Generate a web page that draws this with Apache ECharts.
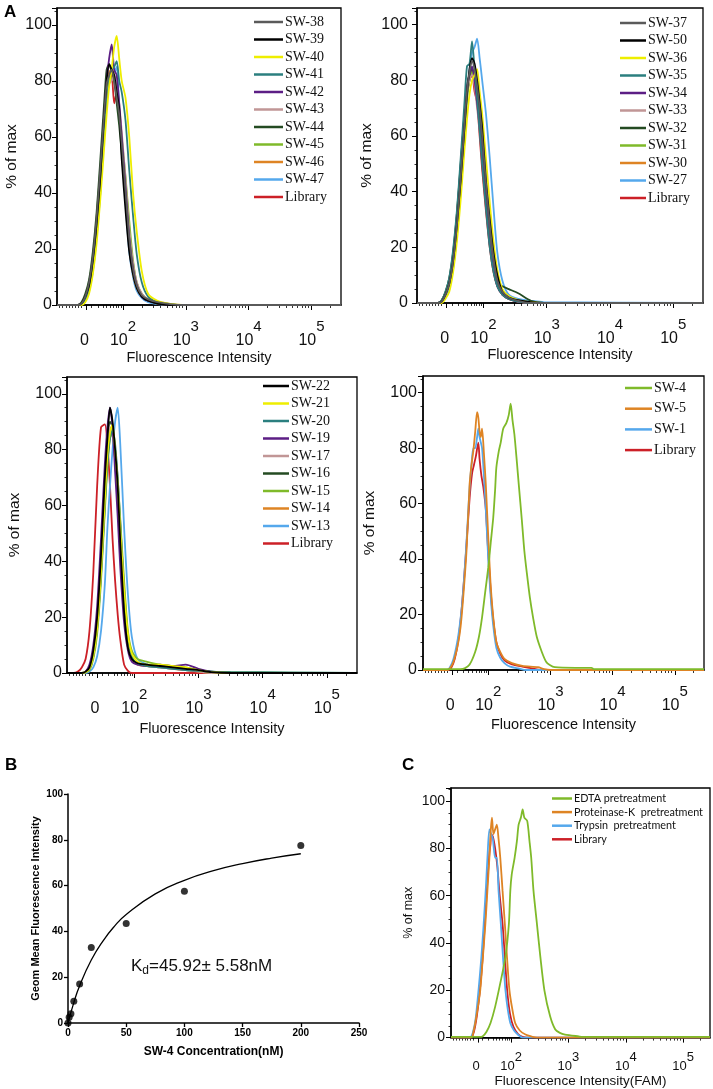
<!DOCTYPE html>
<html>
<head>
<meta charset="utf-8">
<script src="https://cdn.jsdelivr.net/npm/echarts@6/dist/echarts.min.js"></script>
<style>
html, body { margin: 0; padding: 0; background: #fff; }
#chart { width: 713px; height: 1089px; }
</style>
</head>
<body>
<div id="chart"></div>
<script>
// histogram x values are logicle display units: 2 = 10^2, 3 = 10^3 ...
const uMin = 0.95, uMax = 5.47;
const zeroPos = 1.42;
const decadePos = [2, 3, 4, 5];
const minorPos = [0.99, 1.04, 1.09, 1.14, 1.19, 1.24, 1.29, 1.34, 1.5, 1.6, 1.68, 1.74, 1.8, 1.85, 1.89, 1.93, 1.97,
  2.3, 2.48, 2.6, 2.7, 2.78, 2.85, 2.9, 2.95, 3.3, 3.48, 3.6, 3.7, 3.78, 3.85, 3.9, 3.95,
  4.3, 4.48, 4.6, 4.7, 4.78, 4.85, 4.9, 4.95, 5.3];

// ---- A, top-left ----
const uTop = [0.95, 1.28, 1.34, 1.40, 1.46, 1.52, 1.58, 1.64, 1.70, 1.74, 1.78, 1.82, 1.86, 1.90, 1.94, 1.98, 2.04, 2.10, 2.16, 2.22, 2.30, 2.40, 2.55, 2.75, 2.95, 5.47];
const tlNames = ['SW-38', 'SW-39', 'SW-40', 'SW-41', 'SW-42', 'SW-43', 'SW-44', 'SW-45', 'SW-46', 'SW-47', 'Library'];
const sw38 = [0, 0, 0.5, 3, 8, 17, 31, 49, 68, 79, 82, 84, 80, 74, 68, 58, 41, 24, 13, 7, 3.5, 2, 1, 0.3, 0, 0];
const sw39 = [0, 0, 0.5, 3, 7, 16, 29, 46, 68, 80, 86, 84, 82, 76, 70, 52, 34, 19, 11, 6, 3, 1.5, 0.5, 0, 0, 0];
const sw40 = [0, 0, 0, 1, 4, 11, 22, 38, 56, 68, 78, 84, 92, 96, 88, 80, 74, 60, 40, 26, 12, 4, 1.5, 0.4, 0, 0];
const sw41 = [0, 0, 0.3, 2, 5, 12, 24, 40, 60, 72, 80, 84, 85, 87, 80, 76, 66, 48, 32, 18, 8, 3, 1, 0.3, 0, 0];
const sw42 = [0, 0, 0.5, 2.5, 7, 15, 28, 45, 66, 80, 88, 93, 84, 82, 72, 60, 42, 24, 13, 7, 3, 1.5, 0.6, 0, 0, 0];
const sw43 = [0, 0, 0.3, 2, 6, 14, 27, 44, 63, 74, 79, 80, 82, 78, 72, 62, 45, 27, 15, 8, 4, 2, 1.2, 0.4, 0, 0];
const sw44 = [0, 0, 1, 4, 9, 19, 33, 52, 72, 84, 86, 83, 80, 72, 64, 54, 38, 22, 12, 7, 3, 1.5, 0.5, 0, 0, 0];
const sw45 = [0, 0, 0.5, 3, 8, 17, 30, 48, 66, 76, 80, 81, 80, 76, 70, 60, 46, 30, 16, 8, 4, 2, 0.8, 0, 0, 0];
const sw46 = [0, 0, 0.4, 2.5, 7, 16, 29, 46, 66, 78, 83, 84, 82, 76, 68, 57, 39, 21, 11, 6, 3, 1.5, 0.5, 0, 0, 0];
const sw47 = [0, 0, 0.2, 2, 6, 14, 27, 44, 64, 76, 82, 84, 83, 85, 70, 56, 37, 19, 10, 5, 2.5, 1, 0.3, 0, 0, 0];
const libTL = [0, 0, 0.4, 2.5, 7, 15, 28, 45, 64, 75, 80, 82, 72, 76, 68, 57, 39, 21, 11, 6, 3, 1.5, 0.5, 0, 0, 0];

// ---- A, top-right ----
const trNames = ['SW-37', 'SW-50', 'SW-36', 'SW-35', 'SW-34', 'SW-33', 'SW-32', 'SW-31', 'SW-30', 'SW-27', 'Library'];
const sw37 = [0, 0, 0.5, 3, 7, 15, 28, 45, 64, 76, 83, 87, 84, 78, 70, 60, 43, 28, 16, 8, 4, 2, 0.8, 0, 0, 0];
const sw50 = [0, 0, 0.5, 3, 7, 15, 28, 44, 63, 75, 84, 88, 86, 80, 72, 63, 44, 30, 18, 10, 4, 2, 1, 0.3, 0, 0];
const sw36 = [0, 0, 0, 1.5, 4, 11, 22, 37, 55, 66, 75, 80, 82, 84, 76, 68, 52, 36, 22, 12, 5, 2.5, 1, 0.3, 0, 0];
const sw35 = [0, 0, 1, 4, 9, 19, 33, 52, 72, 85, 86, 94, 84, 74, 62, 50, 34, 20, 11, 6, 3, 1.5, 0.5, 0, 0, 0];
const sw34 = [0, 0, 0.8, 3.5, 8, 17, 31, 49, 68, 78, 82, 85, 80, 72, 63, 52, 36, 21, 12, 6, 3, 1.5, 0.5, 0, 0, 0];
const sw33 = [0, 0, 0.8, 3.5, 8, 17, 31, 48, 66, 76, 80, 82, 78, 70, 62, 52, 36, 21, 12, 6, 3, 1.5, 0.5, 0, 0, 0];
const sw32 = [0, 0, 1, 4, 9, 18, 32, 50, 68, 78, 82, 84, 82, 76, 66, 55, 38, 22, 12, 7, 6, 5, 3.5, 0.8, 0, 0];
const sw31 = [0, 0, 0.5, 3, 7, 15, 28, 45, 63, 74, 80, 83, 81, 76, 68, 58, 42, 26, 14, 7, 3.5, 2, 0.8, 0, 0, 0];
const sw30 = [0, 0, 0.5, 3, 7, 15, 28, 45, 64, 75, 81, 84, 82, 77, 68, 57, 40, 24, 13, 7, 3, 1.5, 0.5, 0, 0, 0];
const sw27 = [0, 0, 0.3, 2, 5, 12, 24, 40, 58, 72, 84, 90, 92, 95, 88, 80, 68, 52, 34, 18, 8, 3, 1.5, 0.8, 0.3, 0];
const libTR = [0, 0, 0.5, 3, 7, 15, 28, 45, 63, 74, 80, 82, 76, 72, 60, 48, 33, 20, 11, 6, 3, 1.5, 0.5, 0, 0, 0];

// ---- A, bottom-left ----
const uBot = [0.95, 1.05, 1.12, 1.18, 1.24, 1.30, 1.36, 1.42, 1.48, 1.54, 1.58, 1.62, 1.66, 1.70, 1.74, 1.78, 1.84, 1.90, 1.96, 2.05, 2.20, 2.40, 2.60, 2.80, 3.00, 3.20, 3.50, 5.47];
const blNames = ['SW-22', 'SW-21', 'SW-20', 'SW-19', 'SW-17', 'SW-16', 'SW-15', 'SW-14', 'SW-13', 'Library'];
const sw22 = [0, 0, 0, 0, 0.5, 2, 8, 20, 42, 70, 84, 95, 90, 80, 67, 47, 22, 9, 5, 3.5, 3, 2.5, 2, 1.5, 1, 0.3, 0, 0];
const sw21 = [0, 0, 0, 0, 0.3, 1.5, 6, 16, 36, 62, 78, 86, 89, 80, 68, 52, 30, 14, 7, 4, 3, 3, 2.5, 2, 1, 0.3, 0, 0];
const sw20 = [0, 0, 0, 0, 0.3, 1.5, 6, 16, 35, 60, 75, 84, 87, 82, 70, 54, 30, 13, 6, 3.5, 2.5, 2, 1.5, 1, 0.8, 0.5, 0.3, 0];
const sw19 = [0, 0, 0, 0, 0.5, 3, 10, 24, 48, 75, 88, 95, 88, 72, 56, 38, 18, 8, 4, 3, 2.5, 3, 2.5, 3, 1.5, 0.5, 0, 0];
const sw17 = [0, 0, 0, 0, 0.5, 2, 7, 18, 38, 64, 80, 88, 86, 76, 62, 45, 24, 10, 5, 3, 2.5, 2, 1.5, 1, 0.5, 0, 0, 0];
const sw16 = [0, 0, 0, 0, 0.5, 2, 7, 19, 40, 67, 82, 90, 88, 76, 62, 45, 24, 10, 5, 3.5, 3, 2.5, 2, 1.5, 1, 0.3, 0, 0];
const sw15 = [0, 0, 0, 0, 0.3, 1, 5, 14, 33, 58, 74, 84, 86, 80, 70, 55, 33, 15, 8, 5, 4, 3, 2.5, 2, 1, 0.5, 0.3, 0];
const sw14 = [0, 0, 0, 0, 0.3, 1.5, 6, 17, 37, 62, 78, 86, 87, 78, 64, 47, 26, 11, 5, 3, 2.5, 2, 1.5, 1, 0.5, 0, 0, 0];
const sw13 = [0, 0, 0, 0, 0, 0.5, 2, 6, 15, 32, 52, 67, 80, 90, 95, 82, 52, 28, 13, 5, 3, 2, 1.5, 1, 0.8, 0.5, 0.3, 0];
const libBL = [0, 0, 0.5, 2, 5, 15, 36, 67, 88, 89, 82, 67, 48, 33, 21, 12, 3, 0.8, 0, 0, 0, 0, 0, 0, 0, 0, 0, 0];

// ---- A, bottom-right: [display position, % of max] ----
const brNames = ['SW-4', 'SW-5', 'SW-1', 'Library'];
const sw4 = [[0.95, 0.3], [1.55, 0.3], [1.62, 0.6], [1.70, 2], [1.79, 6.6], [1.85, 12], [1.90, 19], [1.95, 28], [2.00, 37], [2.04, 46], [2.08, 55], [2.11, 65], [2.13, 73], [2.17, 79], [2.20, 82], [2.24, 87], [2.29, 89], [2.33, 92], [2.36, 96], [2.39, 90], [2.42, 85], [2.46, 75], [2.49, 67], [2.54, 54], [2.58, 43], [2.62, 35], [2.67, 26], [2.72, 19], [2.78, 12], [2.86, 6.6], [2.93, 3], [2.99, 1.8], [3.07, 1], [3.40, 0.8], [3.66, 0.8], [3.70, 0.3], [5.47, 0.3]];
const sw5 = [[0.95, 0], [1.34, 0], [1.38, 0.5], [1.44, 3], [1.50, 8], [1.54, 13], [1.57, 19], [1.61, 30], [1.65, 43], [1.70, 67], [1.73, 74], [1.76, 79], [1.79, 86], [1.82, 93], [1.84, 91], [1.86, 86], [1.88, 84], [1.90, 87], [1.93, 78], [1.96, 67], [2.01, 43], [2.04, 30], [2.08, 19], [2.13, 10], [2.19, 6.6], [2.26, 4], [2.38, 2.5], [2.55, 1.5], [2.80, 1], [2.90, 0.3], [3.0, 0], [5.47, 0]];
const sw1 = [[0.95, 0], [1.34, 0], [1.38, 0.8], [1.44, 4], [1.50, 10], [1.54, 16], [1.58, 24], [1.62, 36], [1.66, 50], [1.70, 66], [1.73, 74], [1.76, 80], [1.79, 80], [1.82, 84], [1.84, 87], [1.86, 84], [1.88, 82], [1.90, 80], [1.93, 70], [1.96, 58], [2.00, 40], [2.04, 26], [2.08, 16], [2.13, 8], [2.19, 4.5], [2.26, 2.5], [2.35, 1.2], [2.50, 0.5], [2.6, 0], [5.47, 0]];
const libBR = [[0.95, 0], [1.36, 0], [1.40, 0.6], [1.46, 4], [1.52, 11], [1.58, 24], [1.64, 42], [1.70, 62], [1.74, 71], [1.77, 74], [1.80, 77], [1.84, 82], [1.86, 76], [1.89, 70], [1.92, 66], [1.96, 58], [2.00, 42], [2.04, 28], [2.08, 18], [2.13, 10], [2.19, 6], [2.26, 3.5], [2.38, 2], [2.55, 1.2], [2.70, 0.6], [2.85, 0], [5.47, 0]];

// ---- C ----
const cNames = ['EDTA pretreatment', 'Proteinase-K  pretreatment', 'Trypsin  pretreatment', 'Library'];
const edta = [[0.95, 0.3], [1.45, 0.3], [1.50, 0.5], [1.57, 2.5], [1.64, 6.2], [1.72, 13], [1.81, 23], [1.90, 34], [1.96, 48], [1.985, 62], [2.01, 69], [2.06, 76], [2.10, 83], [2.13, 90], [2.17, 93], [2.20, 96.5], [2.23, 93], [2.28, 91.6], [2.32, 83], [2.35, 76], [2.39, 62], [2.45, 48], [2.51, 34], [2.58, 20], [2.68, 9], [2.77, 3.4], [2.85, 2], [2.94, 1.3], [3.18, 0.5], [3.25, 0.3], [5.47, 0.3]];
const protK = [[0.95, 0], [1.30, 0], [1.35, 3.4], [1.40, 10], [1.46, 20], [1.50, 32], [1.55, 48], [1.59, 64], [1.62, 76], [1.645, 88], [1.665, 93], [1.69, 86], [1.72, 88], [1.75, 90], [1.78, 84], [1.81, 76], [1.85, 62], [1.89, 48], [1.93, 33], [1.97, 20], [2.02, 12], [2.07, 6.2], [2.15, 3], [2.25, 1.3], [2.35, 0.5], [2.45, 0], [5.47, 0]];
const trypsin = [[0.95, 0], [1.28, 0], [1.33, 2], [1.38, 8], [1.43, 20], [1.48, 34], [1.52, 48], [1.56, 64], [1.59, 78], [1.62, 88], [1.65, 86], [1.68, 84], [1.72, 76], [1.75, 76], [1.78, 62], [1.82, 48], [1.86, 33], [1.90, 20], [1.94, 12], [1.985, 6.2], [2.05, 3], [2.13, 1], [2.2, 0], [5.47, 0]];
const libC = [[0.95, 0], [1.30, 0], [1.35, 2.5], [1.40, 9], [1.45, 19], [1.50, 33], [1.54, 48], [1.58, 64], [1.62, 78], [1.64, 82], [1.65, 86], [1.68, 85], [1.72, 80], [1.76, 72], [1.80, 60], [1.85, 48], [1.89, 34], [1.93, 20], [1.98, 10], [2.04, 4.5], [2.12, 1.5], [2.2, 0.3], [2.3, 0], [5.47, 0]];

// ---- B ----
const bConc = [0, 1, 2.5, 5, 10, 20, 50, 100, 200];
const bGeoMean = [0, 2.5, 4, 9.5, 17, 33, 43.5, 57.5, 77.5];
const fitConc = [0, 5, 10, 20, 30, 40, 50, 75, 100, 125, 150, 175, 200];
const fitGeoMean = [0, 8.9, 16.3, 27.5, 35.8, 42.3, 47.4, 56.4, 62.3, 66.5, 69.6, 72.0, 73.9];

const cGrey = '#5a5a5a', cBlack = '#000000', cYellow = '#eeee00', cTeal = '#2b7f7f', cPurple = '#5c1e85',
  cPink = '#c19696', cDkGreen = '#244b22', cLtGreen = '#7fba2a', cOrange = '#de8424', cLtBlue = '#55a8ec', cRed = '#cc2027';

const SANS = 'Liberation Sans';
const zip = (xs, ys) => xs.map((x, i) => [x, ys[i]]);

// layout of the five histogram panels (TL, TR, BL, BR, C)
const hist = [
  { grid: { left: 57, top: 8, width: 284, height: 297 }, yMax: 106, fs: 16, sup: 15, lift: 14, lm: 14.5,
    xName: 'Fluorescence Intensity', xfs: 14.5, xgap: 45, yfs: 15.5, ygap: 37, ylm: 5,
    legend: { left: 254, top: 15, gap: 3.5, w: 29, fs: 14, lh: 14, ff: 'Liberation Serif' } },
  { grid: { left: 417, top: 8, width: 286, height: 295 }, yMax: 106, fs: 16, sup: 15, lift: 14, lm: 14.5,
    xName: 'Fluorescence Intensity', xfs: 14.5, xgap: 44, yfs: 15.5, ygap: 42, ylm: 9,
    legend: { left: 620, top: 16, gap: 3.5, w: 26, fs: 14, lh: 14, ff: 'Liberation Serif' } },
  { grid: { left: 67, top: 377, width: 290, height: 296 }, yMax: 106, fs: 16, sup: 15, lift: 14, lm: 14.5,
    xName: 'Fluorescence Intensity', xfs: 14.5, xgap: 48, yfs: 15.5, ygap: 44, ylm: 5,
    legend: { left: 263, top: 379, gap: 3.5, w: 26, fs: 14, lh: 14, ff: 'Liberation Serif' } },
  { grid: { left: 423, top: 376, width: 281, height: 294 }, yMax: 106, fs: 16, sup: 15, lift: 14, lm: 14.5,
    xName: 'Fluorescence Intensity', xfs: 14.5, xgap: 47, yfs: 15.5, ygap: 45, ylm: 6,
    legend: { left: 625, top: 381, gap: 6.7, w: 27, fs: 14, lh: 14, ff: 'Liberation Serif' } },
  { grid: { left: 451, top: 788, width: 259, height: 251 }, yMax: 105.5, fs: 13, sup: 13, lift: 9, lm: 13.5,
    xName: 'Fluorescence Intensity(FAM)', xfs: 13.5, xgap: 35, yfs: 12.5, ygap: 36, ylm: 6, yLabFs: 14,
    legend: { left: 552, top: 793, gap: 2.6, w: 20, fs: 10.8, lh: 10, ff: 'Lato' } }
];

const histSeries = [
  { names: tlNames, colors: [cGrey, cBlack, cYellow, cTeal, cPurple, cPink, cDkGreen, cLtGreen, cOrange, cLtBlue, cRed],
    data: [sw38, sw39, sw40, sw41, sw42, sw43, sw44, sw45, sw46, sw47, libTL].map(v => zip(uTop, v)) },
  { names: trNames, colors: [cGrey, cBlack, cYellow, cTeal, cPurple, cPink, cDkGreen, cLtGreen, cOrange, cLtBlue, cRed],
    data: [sw37, sw50, sw36, sw35, sw34, sw33, sw32, sw31, sw30, sw27, libTR].map(v => zip(uTop, v)) },
  { names: blNames, colors: [cBlack, cYellow, cTeal, cPurple, cPink, cDkGreen, cLtGreen, cOrange, cLtBlue, cRed],
    data: [sw22, sw21, sw20, sw19, sw17, sw16, sw15, sw14, sw13, libBL].map(v => zip(uBot, v)) },
  { names: brNames, colors: [cLtGreen, cOrange, cLtBlue, cRed], data: [sw4, sw5, sw1, libBR] },
  { names: cNames, colors: [cLtGreen, cOrange, cLtBlue, cRed], data: [edta, protK, trypsin, libC] }
];

const grids = [], xAxes = [], yAxes = [], legends = [], series = [];

hist.forEach((p, i) => {
  grids.push(Object.assign({ show: true, borderColor: '#000', borderWidth: 1.3, backgroundColor: 'transparent' }, p.grid));
  xAxes.push({
    gridIndex: i, type: 'value', position: 'bottom', min: uMin, max: uMax,
    axisLine: { show: true, onZero: false, lineStyle: { color: '#000', width: 1.5 } },
    axisTick: { show: true, customValues: [zeroPos].concat(decadePos), length: 5, lineStyle: { color: '#000', width: 1 } },
    axisLabel: {
      customValues: [zeroPos].concat(decadePos), margin: p.lm, color: '#111',
      formatter: v => Math.abs(v - zeroPos) < 1e-6 ? '{b|0}{s| }' : '{b|10}{s|' + Math.round(v) + '}',
      rich: {
        b: { fontFamily: SANS, fontSize: p.fs, verticalAlign: 'bottom', color: '#111' },
        s: { fontFamily: SANS, fontSize: p.sup, padding: [0, 0, p.lift, 0], verticalAlign: 'top', color: '#111' }
      }
    },
    splitLine: { show: false },
    name: p.xName, nameLocation: 'middle', nameGap: p.xgap,
    nameTextStyle: { fontFamily: SANS, fontSize: p.xfs, color: '#111' }
  });
  xAxes.push({
    gridIndex: i, type: 'value', position: 'bottom', min: uMin, max: uMax,
    axisLine: { show: false, onZero: false },
    axisTick: { show: true, customValues: minorPos, length: 3, lineStyle: { color: '#000', width: 0.8 } },
    axisLabel: { show: false }, splitLine: { show: false }
  });
  yAxes.push({
    gridIndex: i, type: 'value', min: 0, max: p.yMax, interval: 20,
    axisLine: { show: true, onZero: false, lineStyle: { color: '#000', width: 1.5 } },
    axisTick: { show: true, length: 5, lineStyle: { color: '#000' } },
    minorTick: { show: true, splitNumber: 4, length: 2.5, lineStyle: { color: '#000', width: 0.8 } },
    axisLabel: { fontFamily: SANS, fontSize: p.yLabFs || 16, color: '#111', margin: p.ylm, showMaxLabel: false },
    splitLine: { show: false },
    name: '% of max', nameLocation: 'middle', nameGap: p.ygap,
    nameTextStyle: { fontFamily: SANS, fontSize: p.yfs, color: '#111' }
  });
  const s = histSeries[i];
  legends.push({
    orient: 'vertical', left: p.legend.left, top: p.legend.top, padding: 0, itemGap: p.legend.gap,
    icon: 'rect', itemWidth: p.legend.w, itemHeight: 2.5, data: s.names, selectedMode: false,
    textStyle: { fontFamily: p.legend.ff, fontSize: p.legend.fs, color: '#111', lineHeight: p.legend.lh, padding: [0, 0, 0, -3] }
  });
  // draw in reverse legend order so the first entries sit on top
  for (let k = s.names.length - 1; k >= 0; k--) {
    series.push({
      type: 'line', name: s.names[k], data: s.data[k], xAxisIndex: 2 * i, yAxisIndex: i,
      symbol: 'none', smooth: 0.25, silent: true,
      lineStyle: { color: s.colors[k], width: 1.8 }, itemStyle: { color: s.colors[k] }
    });
  }
});

// ---- B: binding curve ----
grids.push({ left: 68, top: 794, width: 291, height: 229 });
xAxes.push({
  gridIndex: 5, type: 'value', min: 0, max: 250, interval: 50,
  axisLine: { onZero: false, lineStyle: { color: '#000', width: 1.5 } },
  axisTick: { show: true, length: 4, lineStyle: { color: '#000', width: 1.3 } },
  axisLabel: { fontFamily: SANS, fontSize: 10, fontWeight: 'bold', color: '#000', margin: 5 },
  splitLine: { show: false },
  name: 'SW-4 Concentration(nM)', nameLocation: 'middle', nameGap: 23,
  nameTextStyle: { fontFamily: SANS, fontSize: 12, fontWeight: 'bold', color: '#000' }
});
yAxes.push({
  gridIndex: 5, type: 'value', min: 0, max: 100, interval: 20,
  axisLine: { show: true, onZero: false, lineStyle: { color: '#000', width: 1.5 } },
  axisTick: { show: true, length: 4, lineStyle: { color: '#000', width: 1.3 } },
  axisLabel: { fontFamily: SANS, fontSize: 10, fontWeight: 'bold', color: '#000', margin: 5 },
  splitLine: { show: false },
  name: 'Geom Mean Fluorescence Intensity', nameLocation: 'middle', nameGap: 27,
  nameTextStyle: { fontFamily: SANS, fontSize: 11, fontWeight: 'bold', color: '#000' }
});
series.push({
  type: 'line', name: 'fit', data: zip(fitConc, fitGeoMean), xAxisIndex: 10, yAxisIndex: 5,
  symbol: 'none', smooth: true, silent: true, lineStyle: { color: '#000', width: 1.3 }
});
series.push({
  type: 'scatter', name: 'SW-4', data: zip(bConc, bGeoMean), xAxisIndex: 10, yAxisIndex: 5,
  symbolSize: 7, silent: true, itemStyle: { color: '#000' }
});

const option = {
  animation: false,
  backgroundColor: '#fff',
  grid: grids, xAxis: xAxes, yAxis: yAxes, legend: legends, series: series,
  title: [{
    text: 'K{d|d}=45.92± 5.58nM', left: 126, top: 951,
    textStyle: { fontFamily: SANS, fontSize: 17, fontWeight: 'normal', color: '#111',
      rich: { d: { fontFamily: SANS, fontSize: 12, padding: [9, 0, 0, 0], color: '#111' } } }
  }],
  graphic: [
    { type: 'text', left: 4, top: 4, style: { text: 'A', font: 'bold 17px "Liberation Sans"', fill: '#000' } },
    { type: 'text', left: 5, top: 757, style: { text: 'B', font: 'bold 17px "Liberation Sans"', fill: '#000' } },
    { type: 'text', left: 402, top: 757, style: { text: 'C', font: 'bold 17px "Liberation Sans"', fill: '#000' } }
  ]
};

const chart = echarts.init(document.getElementById('chart'), null, { renderer: 'canvas' });
chart.setOption(option);
</script>
</body>
</html>
